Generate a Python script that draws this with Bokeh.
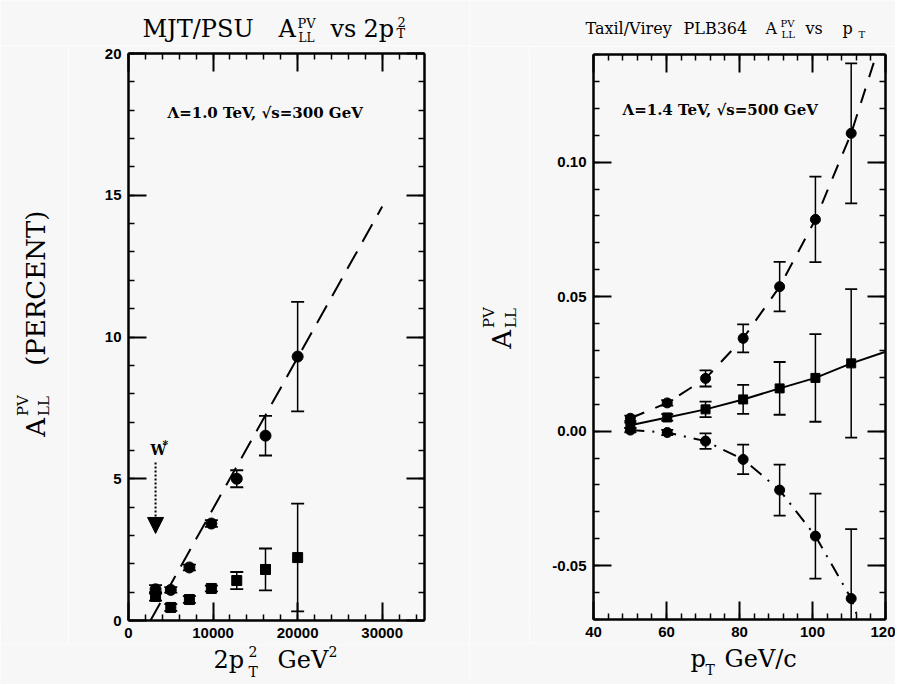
import math
from bokeh.plotting import figure
from bokeh.layouts import row, column
from bokeh.models import (Range1d, LinearAxis, SingleIntervalTicker, PrintfTickFormatter,
                          CustomJSTickFormatter, Label, Arrow, NormalHead)
from bokeh.embed import file_html
from bokeh.resources import INLINE

# ---------------- data: left panel (MJT/PSU, A_LL^PV in percent vs 2pT^2) ----------------
left_x = [3200, 5000, 7200, 9800, 12800, 16200, 20000]
left_circ = [1.10, 1.08, 1.87, 3.42, 5.00, 6.52, 9.31]
left_circ_err = [0.15, 0.10, 0.10, 0.12, 0.30, 0.70, 1.93]
left_sq = [0.85, 0.46, 0.74, 1.13, 1.41, 1.80, 2.22]
left_sq_err = [0.15, 0.12, 0.12, 0.10, 0.30, 0.74, 1.90]
left_fit_x = [2600, 30000]
left_fit_y = [0.0, 14.6]
w_star_x = [3200, 3200]
w_star_y = [5.57, 3.07]

# ---------------- data: right panel (Taxil/Virey, A_LL^PV vs pT) ----------------
right_x = [50.1, 60.2, 70.7, 81.0, 91.0, 100.8, 110.6]
right_up = [0.0048, 0.0105, 0.0196, 0.0345, 0.0537, 0.0787, 0.1107]
right_up_err = [0.0010, 0.0010, 0.0030, 0.0052, 0.0092, 0.0159, 0.0260]
right_mid = [0.0022, 0.0051, 0.0081, 0.0118, 0.0159, 0.0198, 0.0252]
right_mid_err = [0.0010, 0.0012, 0.0029, 0.0054, 0.0098, 0.0163, 0.0276]
right_lo = [0.0004, -0.0005, -0.0037, -0.0105, -0.0219, -0.0390, -0.0622]
right_lo_err = [0.0008, 0.0010, 0.0029, 0.0055, 0.0095, 0.0158, 0.0258]
up_curve_x = [50.1, 60.2, 70.7, 81.0, 91.0, 100.8, 110.6, 117.5]
up_curve_y = [0.0048, 0.0105, 0.0196, 0.0345, 0.0537, 0.0787, 0.1107, 0.1400]
mid_curve_x = [50.1, 60.2, 70.7, 81.0, 91.0, 100.8, 110.6, 120.0]
mid_curve_y = [0.0022, 0.0051, 0.0081, 0.0118, 0.0159, 0.0198, 0.0252, 0.0295]
lo_curve_x = [50.1, 60.2, 70.7, 81.0, 91.0, 100.8, 110.6, 112.6]
lo_curve_y = [0.0004, -0.0005, -0.0037, -0.0105, -0.0219, -0.0390, -0.0622, -0.0700]

BG = "#f7f7f7"
SERIF = "DejaVu Serif"
SANS = "Liberation Sans"
ROT = math.pi / 2
BASE = 0.375  # baseline correction, in em


def style_axes(p, xint, yint, xfmt, yfmt):
    bottom = p.xaxis[0]
    left = p.yaxis[0]
    bottom.ticker = SingleIntervalTicker(interval=xint, num_minor_ticks=5)
    left.ticker = SingleIntervalTicker(interval=yint, num_minor_ticks=5)
    bottom.formatter = PrintfTickFormatter(format=xfmt)
    left.formatter = PrintfTickFormatter(format=yfmt)
    right = LinearAxis(ticker=SingleIntervalTicker(interval=yint, num_minor_ticks=5),
                       formatter=CustomJSTickFormatter(code="return ''"))
    top = LinearAxis(ticker=SingleIntervalTicker(interval=xint, num_minor_ticks=5),
                     formatter=CustomJSTickFormatter(code="return ''"))
    p.add_layout(right, "right")
    p.add_layout(top, "above")
    for ax in [bottom, left, right, top]:
        ax.axis_line_width = 2.5
        ax.axis_line_color = "black"
        ax.major_tick_in = 18
        ax.major_tick_out = 0
        ax.minor_tick_in = 6
        ax.minor_tick_out = 0
        ax.major_tick_line_width = 2
        ax.minor_tick_line_width = 1.5
        ax.major_label_text_font = SANS
        ax.major_label_text_font_style = "bold"
        ax.major_label_text_font_size = "15px"
        ax.major_label_text_color = "black"
        ax.major_label_standoff = 7
    for ax in [right, top]:
        ax.major_label_text_font_size = "1px"
        ax.major_label_standoff = 0
    p.xgrid.visible = False
    p.ygrid.visible = False
    p.outline_line_color = None


def lab(p, x, y, text, size, font=SERIF, style="normal", angle=0.0):
    p.add_layout(Label(x=x, y=y, text=text, text_font=font, text_font_size=f"{size}px",
                       text_font_style=style, angle=angle, text_align="left",
                       text_baseline="alphabetic", text_color="black"))


def tlab(p, px, py, text, size, style="normal", rotated=False):
    """Label on a page-pixel canvas; (px, py) is the wanted baseline start."""
    if rotated:
        lab(p, px - BASE * size, py, text, size, style=style, angle=ROT)
    else:
        lab(p, px, py - BASE * size, text, size, style=style)


def errbars(p, xs, ys, errs, cap):
    lo = [y - e for y, e in zip(ys, errs)]
    hi = [y + e for y, e in zip(ys, errs)]
    p.segment(x0=xs, y0=lo, x1=xs, y1=hi, line_color="black", line_width=1.5)
    p.scatter(x=xs + xs, y=lo + hi, marker="dash", size=cap, line_color="black", line_width=1.8)


def text_panel(x0, x1, y0, y1):
    """A blank canvas whose coordinates are page pixels (y downward), used for titles/labels."""
    f = figure(width=x1 - x0, height=y1 - y0, x_range=Range1d(x0, x1), y_range=Range1d(y1, y0),
               title=None, min_border=0, toolbar_location=None, output_backend="svg",
               x_axis_type=None, y_axis_type=None, background_fill_color=BG,
               border_fill_color=BG, outline_line_color=None)
    return f


# ======================= LEFT MAIN FIGURE =======================
L_X0, L_X1, L_Y0, L_Y1 = 0, 35000, 0, 20
pl = figure(x_range=Range1d(L_X0, L_X1), y_range=Range1d(L_Y0, L_Y1), title=None,
            frame_width=296, frame_height=567, min_border_left=60, min_border_right=45,
            min_border_top=8, min_border_bottom=24, output_backend="svg",
            toolbar_location=None, background_fill_color=BG, border_fill_color=BG)
style_axes(pl, 10000, 5, "%d", "%d")


def lx(px):
    return L_X0 + (px - 128) / 296 * (L_X1 - L_X0)


def ly(py):
    return L_Y0 + (620 - py) / 567 * (L_Y1 - L_Y0)


pl.line(left_fit_x, left_fit_y, line_color="black", line_width=2, line_dash="20 11")
errbars(pl, left_x, left_circ, left_circ_err, 13)
errbars(pl, left_x, left_sq, left_sq_err, 13)
pl.scatter(left_x, left_circ, marker="circle", size=11, color="black")
pl.scatter(left_x, left_sq, marker="square", size=10, color="black")
pl.add_layout(Arrow(x_start=w_star_x[0], y_start=w_star_y[0], x_end=w_star_x[1], y_end=w_star_y[1],
                    line_color="black", line_width=2, line_dash="2 2",
                    end=NormalHead(size=16, fill_color="black", line_color="black")))
lab(pl, lx(167), ly(118 - BASE * 15), "Λ=1.0 TeV, √s=300 GeV", 15, style="bold")
lab(pl, lx(150), ly(455 - BASE * 14), "W", 14, style="bold")
lab(pl, lx(162), ly(448 - BASE * 11), "*", 11, style="bold")

# left title / labels (page-pixel canvases)
tL = text_panel(0, 469, 0, 45)
tlab(tL, 142, 37, "MJT/PSU", 24)
tlab(tL, 278, 37, "A", 24)
tlab(tL, 297, 28, "PV", 13)
tlab(tL, 298, 42, "LL", 12)
tlab(tL, 330, 37, "vs", 24)
tlab(tL, 363, 37, "2p", 24)
tlab(tL, 397, 26, "2", 13)
tlab(tL, 396, 38, "T", 13)

yL = text_panel(0, 68, 45, 644)
tlab(yL, 45, 450, "A", 26, rotated=True)
tlab(yL, 28, 428, "PV", 15, rotated=True)
tlab(yL, 49, 428, "LL", 15, rotated=True)
tlab(yL, 45, 375, "(PERCENT)", 26, rotated=True)

xL = text_panel(0, 469, 644, 684)
tlab(xL, 213, 668, "2p", 24)
tlab(xL, 248, 656, "2", 14)
tlab(xL, 248, 677, "T", 14)
tlab(xL, 277, 668, "GeV", 24)
tlab(xL, 328, 656, "2", 14)

# ======================= RIGHT MAIN FIGURE =======================
R_X0, R_X1, R_Y0, R_Y1 = 40, 120, -0.07, 0.14
pr = figure(x_range=Range1d(R_X0, R_X1), y_range=Range1d(R_Y0, R_Y1), title=None,
            frame_width=292, frame_height=565, min_border_left=64, min_border_right=10,
            min_border_top=8, min_border_bottom=24, output_backend="svg",
            toolbar_location=None, background_fill_color=BG, border_fill_color=BG)
style_axes(pr, 20, 0.05, "%d", "%.2f")


def rx(px):
    return R_X0 + (px - 593) / 292 * (R_X1 - R_X0)


def ry(py):
    return R_Y1 - (py - 54) / 565 * (R_Y1 - R_Y0)


pr.line(up_curve_x, up_curve_y, line_color="black", line_width=2, line_dash="15 12")
pr.line(mid_curve_x, mid_curve_y, line_color="black", line_width=2)
pr.line(lo_curve_x, lo_curve_y, line_color="black", line_width=2, line_dash="14 8 2 8")
errbars(pr, right_x, right_up, right_up_err, 12)
errbars(pr, right_x, right_mid, right_mid_err, 12)
errbars(pr, right_x, right_lo, right_lo_err, 12)
pr.scatter(right_x, right_up, marker="circle", size=10, color="black")
pr.scatter(right_x, right_mid, marker="square", size=9, color="black")
pr.scatter(right_x, right_lo, marker="circle", size=10, color="black")
lab(pr, rx(622), ry(115 - BASE * 15), "Λ=1.4 TeV, √s=500 GeV", 15, style="bold")

tR = text_panel(469, 895, 0, 46)
tlab(tR, 585, 34, "Taxil/Virey", 16)
tlab(tR, 683, 34, "PLB364", 16)
tlab(tR, 765, 34, "A", 16)
tlab(tR, 780, 27, "PV", 10)
tlab(tR, 781, 38, "LL", 10)
tlab(tR, 805, 34, "vs", 16)
tlab(tR, 842, 34, "p", 16)
tlab(tR, 858, 38, "T", 10)

yR = text_panel(469, 529, 46, 643)
tlab(yR, 511, 357, "A", 26, rotated=True)
tlab(yR, 494, 335, "PV", 15, rotated=True)
tlab(yR, 516, 335, "LL", 15, rotated=True)

xR = text_panel(469, 895, 643, 684)
tlab(xR, 690, 667, "p", 24)
tlab(xR, 705, 675, "T", 14)
tlab(xR, 724, 667, "GeV/c", 24)

left_block = column(tL, row(yL, pl), xL)
right_block = column(tR, row(yR, pr), xR)
layout = row(left_block, right_block)
open("out.html", "w").write(file_html(layout, INLINE))
